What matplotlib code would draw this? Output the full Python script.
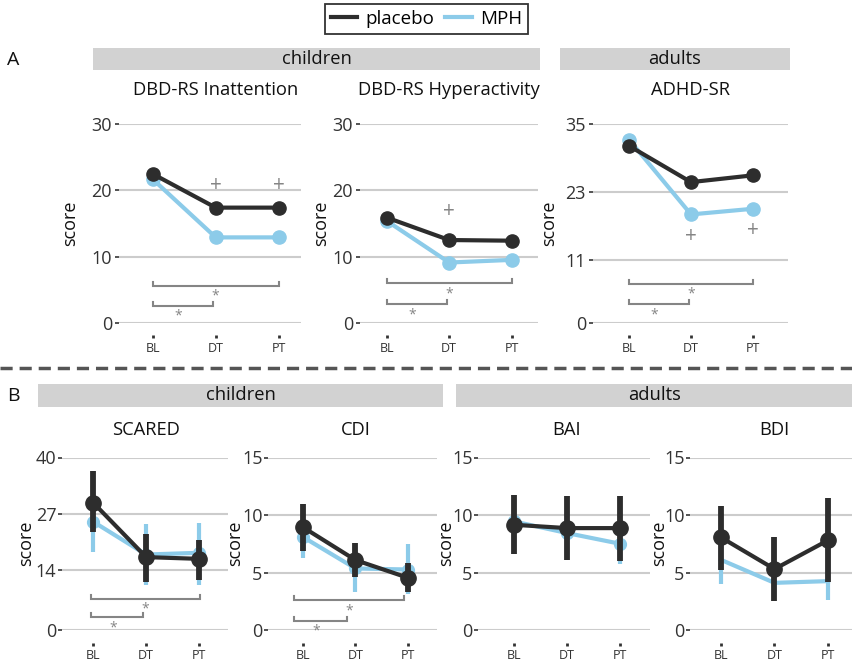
import matplotlib
matplotlib.use('Agg')
import matplotlib.pyplot as plt
from matplotlib.lines import Line2D
from matplotlib.patches import Rectangle

plt.rcParams['font.family'] = ['Open Sans', 'DejaVu Sans']

W, H = 853, 664
DARK = '#2d2d2d'
BLUE = '#8ccbe9'
GRID = '#cccccc'
ANNO = '#858585'

timepoints = ['BL', 'DT', 'PT']
xs = [0, 1, 2]

# ---- A: ADHD symptoms (means)
inatt_placebo = [22.5, 17.4, 17.4]
inatt_mph = [21.7, 12.9, 12.9]
hyper_placebo = [15.9, 12.5, 12.4]
hyper_mph = [15.4, 9.1, 9.5]
adhd_placebo = [31.2, 24.8, 26.0]
adhd_mph = [32.3, 19.1, 20.1]

# ---- B: anxiety / depression (mean, lower end, upper end)
scared_placebo = [29.5, 16.9, 16.5]
scared_placebo_lo = [22.8, 11.2, 11.7]
scared_placebo_hi = [36.9, 22.3, 20.9]
scared_mph = [25.1, 17.5, 17.9]
scared_mph_lo = [18.2, 10.5, 10.5]
scared_mph_hi = [32.5, 24.6, 24.9]

cdi_placebo = [8.95, 6.08, 4.53]
cdi_placebo_lo = [6.9, 4.6, 3.3]
cdi_placebo_hi = [11.0, 7.6, 5.8]
cdi_mph = [8.1, 5.35, 5.26]
cdi_mph_lo = [6.3, 3.3, 3.15]
cdi_mph_hi = [10.0, 7.25, 7.5]

bai_placebo = [9.15, 8.86, 8.86]
bai_placebo_lo = [6.6, 6.06, 5.97]
bai_placebo_hi = [11.75, 11.66, 11.66]
bai_mph = [9.44, 8.43, 7.5]
bai_mph_lo = [7.27, 6.55, 5.7]
bai_mph_hi = [11.45, 10.36, 9.3]

bdi_placebo = [8.05, 5.3, 7.8]
bdi_placebo_lo = [5.25, 2.5, 4.15]
bdi_placebo_hi = [10.8, 8.08, 11.45]
bdi_mph = [6.1, 4.1, 4.25]
bdi_mph_lo = [4.0, 2.9, 2.57]
bdi_mph_hi = [7.9, 6.0, 5.75]

# drug vs placebo marks (+) and time effect brackets (*)
inatt_plus = [(1, 20.8), (2, 20.8)]
hyper_plus = [(1, 16.8)]
adhd_plus = [(1, 15.2), (2, 16.2)]
inatt_brackets = [(0, 2, 5.6), (0, 0.96, 2.6)]
hyper_brackets = [(0, 2, 5.95), (0, 0.96, 2.8)]
adhd_brackets = [(0, 2, 6.9), (0, 0.97, 3.3)]
scared_brackets = [(-0.05, 2.02, 7.2), (-0.05, 0.95, 3.0)]
cdi_brackets = [(-0.16, 1.92, 2.57), (-0.16, 0.83, 0.82)]


fig = plt.figure(figsize=(W / 100, H / 100), dpi=100)


def px(x, y):
    return x / W, 1 - y / H


def add_panel(x0, x1, ytop, ybot, bl, sp, ymax, ticks, title, ylab_x, tsize):
    ax = fig.add_axes([x0 / W, 1 - ybot / H, (x1 - x0) / W, (ybot - ytop) / H])
    ax.set_xlim((x0 - bl) / sp, (x1 - bl) / sp)
    ax.set_ylim(0, ymax)
    ax.set_yticks(ticks)
    ax.set_xticks(xs)
    ax.set_xticklabels(timepoints)
    for s in ['top', 'right', 'left']:
        ax.spines[s].set_visible(False)
    ax.spines['bottom'].set_position(('outward', 9))
    ax.spines['bottom'].set_visible(False)
    ax.yaxis.grid(True, color=GRID, lw=1.5)
    ax.set_axisbelow(True)
    ax.tick_params(axis='y', length=3, width=1.3, color='#444', pad=2,
                   labelsize=13, labelcolor='#333')
    ax.tick_params(axis='x', length=2, width=2, color='#333', pad=3,
                   labelsize=9, labelcolor='#333')
    ax.set_ylabel('score', fontsize=13, color='#111', va='center')
    ax.yaxis.set_label_coords(-(x0 - ylab_x) / (x1 - x0), 0.5)
    ax.text(1, 1 + (ytop - tsize) / (ybot - ytop), title, fontsize=13.2,
            ha='center', va='center', color='#111',
            transform=ax.get_xaxis_transform())
    ax.unit = ymax / (ybot - ytop)
    return ax


def draw_lines(ax, placebo, mph):
    ax.plot(xs, mph, color=BLUE, lw=3, marker='o', ms=9.5, clip_on=False, zorder=3)
    ax.plot(xs, placebo, color=DARK, lw=3, marker='o', ms=9.5, clip_on=False, zorder=4)


def draw_err(ax, m, lo, hi, color, lw, elw, ms, z):
    ax.errorbar(xs, m, yerr=[[a - b for a, b in zip(m, lo)], [b - a for a, b in zip(m, hi)]],
                color=color, lw=lw, elinewidth=elw, marker='o', ms=ms, capsize=0,
                clip_on=False, zorder=z)


def draw_marks(ax, plus=(), brackets=()):
    u = ax.unit
    for xp, yp in plus:
        ax.text(xp, yp, '+', fontsize=15, color=ANNO, ha='center', va='center')
    for i, (a, b, y) in enumerate(brackets):
        h = 4 * u
        ax.plot([a, a, b, b], [y + h, y, y, y + h], color=ANNO, lw=1.5,
                solid_joinstyle='miter', zorder=2)
        sx = (a + b) / 2 if i == 0 else a + (b - a) * 0.42
        ax.text(sx, y - 3 * u, '*', fontsize=10, color=ANNO, ha='center', va='top')


# ---------------- row A
ax1 = add_panel(119, 301, 124.3, 322.7, 152.7, 63, 30, [0, 10, 20, 30],
                'DBD-RS Inattention', 70, 90)
draw_lines(ax1, inatt_placebo, inatt_mph)
draw_marks(ax1, inatt_plus, inatt_brackets)

ax2 = add_panel(360, 538, 124.3, 322.7, 386.7, 62.5, 30, [0, 10, 20, 30],
                'DBD-RS Hyperactivity', 321, 90)
draw_lines(ax2, hyper_placebo, hyper_mph)
draw_marks(ax2, hyper_plus, hyper_brackets)

ax3 = add_panel(593, 788, 124.3, 322.7, 629, 62, 35, [0, 11, 23, 35],
                'ADHD-SR', 549, 90)
draw_lines(ax3, adhd_placebo, adhd_mph)
draw_marks(ax3, adhd_plus, adhd_brackets)

# ---------------- row B
b_panels = [
    ((62, 228, 93.3, 52.8, 40, [0, 14, 27, 40], 'SCARED', 26), scared_placebo, scared_placebo_lo,
     scared_placebo_hi, scared_mph, scared_mph_lo, scared_mph_hi, scared_brackets, 8.5),
    ((268, 437, 302.7, 52.8, 15, [0, 5, 10, 15], 'CDI', 235), cdi_placebo, cdi_placebo_lo,
     cdi_placebo_hi, cdi_mph, cdi_mph_lo, cdi_mph_hi, cdi_brackets, 8.5),
    ((478, 650, 514, 53, 15, [0, 5, 10, 15], 'BAI', 446), bai_placebo, bai_placebo_lo,
     bai_placebo_hi, bai_mph, bai_mph_lo, bai_mph_hi, [], 8.5),
    ((690, 852, 721, 53.5, 15, [0, 5, 10, 15], 'BDI', 659), bdi_placebo, bdi_placebo_lo,
     bdi_placebo_hi, bdi_mph, bdi_mph_lo, bdi_mph_hi, [], 0),
]
for spec, p, plo, phi, m, mlo, mhi, br, mph_ms in b_panels:
    x0, x1, bl, sp, ymax, ticks, title, ylx = spec
    ax = add_panel(x0, x1, 457.5, 630, bl, sp, ymax, ticks, title, ylx, 430)
    ax.tick_params(axis='y', pad=1)
    draw_err(ax, m, mlo, mhi, BLUE, 3, 3, mph_ms, 3)
    draw_err(ax, p, plo, phi, DARK, 3, 4.2, 11, 4)
    draw_marks(ax, (), br)

# ---------------- headers, labels, separator, legend
for (xa, xb, ya, yb, label) in [(93, 540, 48, 70, 'children'), (560, 790, 48, 70, 'adults'),
                                (38, 443, 384, 407, 'children'), (456, 853, 384, 407, 'adults')]:
    fx, fy = px(xa, yb)
    fig.patches.append(Rectangle((fx, fy), (xb - xa) / W, (yb - ya) / H,
                                 transform=fig.transFigure, facecolor='#d2d2d2',
                                 edgecolor='none', zorder=0))
    cx, cy = px((xa + xb) / 2, (ya + yb) / 2)
    fig.text(cx, cy, label, fontsize=13.2, ha='center', va='center', color='#111')

fig.text(*px(13, 60), 'A', fontsize=14, ha='center', va='center', color='#111')
fig.text(*px(13, 396), 'B', fontsize=14, ha='center', va='center', color='#111')

fig.add_artist(Line2D([0, 1], [1 - 368 / H, 1 - 368 / H], transform=fig.transFigure,
                      color='#555', lw=2.5, dashes=(3.5, 2)))

handles = [Line2D([], [], color=DARK, lw=3), Line2D([], [], color=BLUE, lw=3)]
leg = fig.legend(handles, ['placebo', 'MPH'], loc='center', bbox_to_anchor=px(426.5, 19),
                 ncol=2, fontsize=13.5, frameon=True, fancybox=False, handlelength=1.4,
                 handletextpad=0.45, columnspacing=0.6, borderpad=0.3)
leg.get_frame().set_edgecolor('black')
leg.get_frame().set_linewidth(1.3)

fig.savefig('out.png', dpi=100)
